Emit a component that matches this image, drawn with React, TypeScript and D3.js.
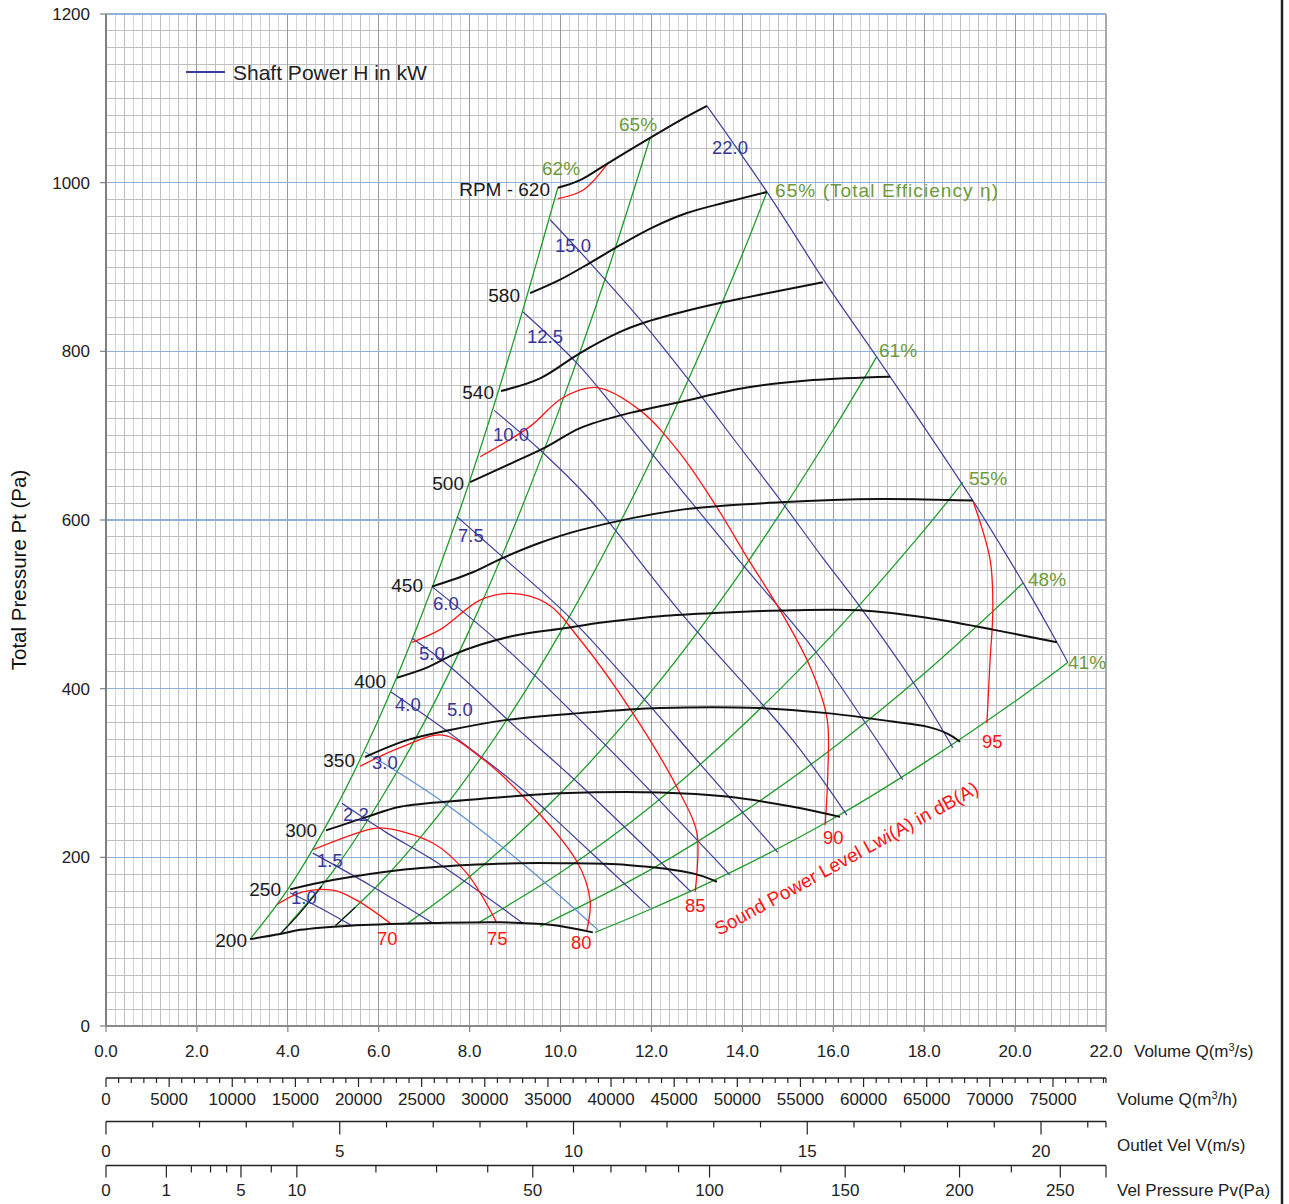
import React from 'react';
import * as d3 from 'd3';

type Pt = [number, number];

// ---------- axis ticks ----------
const qTicks = [0, 2, 4, 6, 8, 10, 12, 14, 16, 18, 20, 22];
const pTicks = [0, 200, 400, 600, 800, 1000, 1200];
const m3hLabels = [0, 5000, 10000, 15000, 20000, 25000, 30000, 35000, 40000, 45000, 50000, 55000, 60000, 65000, 70000, 75000];
const velLabels = [0, 5, 10, 15, 20];
const pvTicks = [0, 1, 2, 3, 4, 5, 7.5, 10, 20, 30, 40, 50, 60, 70, 80, 90, 100, 125, 150, 175, 200, 225, 250];
const pvLabels = [0, 1, 5, 10, 50, 100, 150, 200, 250];

// ---------- fan speed curves (Q m3/s, Pt Pa) ----------
const rpmNames = ['RPM - 620', '580', '540', '500', '450', '400', '350', '300', '250', '200'];
const rpm620: Pt[] = [[9.94, 994], [10.43, 1003], [11.04, 1023], [11.97, 1053], [12.6, 1073], [13.22, 1091]];
const rpm580: Pt[] = [[9.33, 869], [9.99, 885], [10.65, 905], [11.31, 926], [12.03, 947], [12.78, 964], [13.66, 977], [14.54, 989]];
const rpm540: Pt[] = [[8.69, 753], [9.55, 768], [10.43, 798], [11.31, 823], [11.9, 835], [13.0, 851], [14.1, 864], [15.77, 882]];
const rpm500: Pt[] = [[8.01, 645], [8.95, 668], [9.7, 687], [10.43, 709], [11.53, 727], [12.63, 740], [14.1, 757], [15.55, 766], [17.25, 770]];
const rpm450: Pt[] = [[7.17, 521], [8.07, 538], [8.73, 555], [9.55, 573], [10.43, 588], [12.63, 612], [14.83, 621], [17.03, 625], [19.07, 623]];
const rpm400: Pt[] = [[6.4, 413], [7.06, 425], [7.63, 440], [8.23, 452], [9.0, 463], [9.99, 471], [11.0, 479], [12.19, 486], [13.5, 490], [15.11, 493], [16.59, 493], [18.06, 484], [19.51, 470], [20.92, 455]];
const rpm350: Pt[] = [[5.7, 319], [6.62, 339], [7.57, 351], [8.82, 363], [10.43, 371], [12.19, 377], [14.39, 377], [15.86, 371], [17.31, 361], [18.06, 355], [18.5, 347], [18.79, 337]];
const rpm300: Pt[] = [[4.84, 232], [5.74, 248], [6.47, 260], [7.94, 268], [9.11, 273], [9.99, 276], [12.19, 277], [13.66, 272], [15.11, 260], [16.15, 248]];
const rpm250: Pt[] = [[4.05, 162], [4.99, 173], [6.47, 185], [7.94, 191], [9.11, 193], [9.99, 193], [11.46, 191], [12.91, 181], [13.44, 171]];
const rpm200: Pt[] = [[3.17, 103], [3.83, 109], [4.27, 114], [5.37, 119], [7.19, 122], [8.67, 123], [9.77, 120], [10.71, 111]];
const rpmCurves = [rpm620, rpm580, rpm540, rpm500, rpm450, rpm400, rpm350, rpm300, rpm250, rpm200];

// ---------- total efficiency lines ----------
const effNames = ['62%', '65%', '65% (Total Efficiency η)', '61%', '55%', '48%', '41%'];
const eff62: Pt[] = [[3.17, 103], [4, 162], [5, 253], [6, 364], [7, 495], [8, 646], [9, 818], [9.94, 994]];
const eff65a: Pt[] = [[3.83, 109], [5, 184], [6, 265], [7, 360], [8, 470], [9, 595], [10, 735], [11, 889], [11.97, 1053]];
const eff65b: Pt[] = [[5.05, 119], [6, 168], [7, 229], [8, 299], [9, 378], [10, 467], [11, 565], [12, 672], [13, 789], [14, 915], [14.54, 989]];
const eff61: Pt[] = [[6.64, 122], [8, 177], [10, 276], [12, 397], [14, 541], [16, 707], [16.96, 794]];
const eff55: Pt[] = [[8.18, 122], [10, 182], [12, 261], [14, 356], [16, 465], [18, 588], [18.85, 645]];
const eff48: Pt[] = [[9.55, 118], [12, 186], [14, 253], [16, 330], [18, 418], [20.17, 525]];
const eff41: Pt[] = [[10.76, 111], [12, 139], [14, 189], [16, 246], [18, 312], [20, 385], [21.16, 431]];
const effCurves = [eff62, eff65a, eff65b, eff61, eff55, eff48, eff41];
const eff65aLow: Pt[] = [[3.83, 109], [4.2, 130], [4.75, 166]];
const eff65bLow: Pt[] = [[5.05, 119], [5.27, 130], [5.49, 141]];

// ---------- shaft power lines (kW) ----------
const powNames = ['22.0', '15.0', '12.5', '10.0', '7.5', '6.0', '5.0', '4.0', '3.0', '2.2', '1.5', '1.0'];
const pow220: Pt[] = [[13.22, 1091], [14.54, 989], [15.82, 882], [16.96, 793], [17.25, 770], [19.07, 623], [20.17, 526], [20.92, 455], [21.16, 431]];
const pow150: Pt[] = [[9.77, 956], [10.65, 905], [11.81, 834], [12.85, 764], [13.88, 691], [14.83, 624], [15.77, 555], [16.59, 497], [17.8, 404], [18.63, 330]];
const pow125: Pt[] = [[9.17, 847], [10.36, 786], [11.37, 721], [13.88, 555], [15.64, 442], [16.81, 351], [17.53, 292]];
const pow100: Pt[] = [[8.54, 730], [9.61, 680], [10.65, 624], [12.63, 491], [15.11, 339], [16.3, 250]];
const pow75: Pt[] = [[7.72, 604], [8.73, 556], [10.21, 484], [11.75, 393], [13.13, 307], [14.78, 206]];
const pow60: Pt[] = [[7.17, 521], [8.67, 454], [10.43, 363], [11.81, 288], [13.73, 179]];
const pow50: Pt[] = [[6.73, 460], [7.57, 426], [9.0, 355], [10.43, 286], [12.87, 159]];
const pow40: Pt[] = [[6.27, 396], [7.57, 347], [9.26, 276], [9.99, 240], [11.97, 140]];
const pow30: Pt[] = [[5.7, 325], [7.35, 268], [9.11, 195], [10.82, 114]];
const pow22: Pt[] = [[5.19, 264], [6.18, 229], [7.19, 197], [9.17, 122]];
const pow15: Pt[] = [[4.55, 205], [5.81, 167], [7.19, 122]];
const pow10: Pt[] = [[4.05, 158], [4.71, 140], [5.41, 119]];
const powCurves = [pow220, pow150, pow125, pow100, pow75, pow60, pow50, pow40, pow30, pow22, pow15, pow10];

// ---------- sound power level lines dB(A) ----------
const sndNames = ['70', '75', '80', '85', '90', '95'];
const snd70: Pt[] = [[3.76, 144], [4.33, 159], [4.99, 161], [5.52, 149], [6.25, 122]];
const snd75: Pt[] = [[4.55, 209], [5.59, 230], [6.03, 235], [7.19, 217], [7.94, 181], [8.6, 122]];
const snd80: Pt[] = [[5.59, 308], [6.47, 330], [7.41, 345], [8.23, 319], [9.11, 276], [10.36, 195], [10.65, 149], [10.58, 114]];
const snd85: Pt[] = [[6.73, 455], [7.35, 470], [8.23, 505], [8.89, 513], [9.7, 501], [10.43, 458], [11.59, 371], [12.63, 276], [13.0, 229], [12.96, 159]];
const snd90: Pt[] = [[8.23, 675], [9.33, 711], [10.05, 745], [10.8, 757], [11.75, 730], [12.63, 679], [13.44, 615], [14.1, 556], [14.83, 493], [15.49, 426], [15.86, 366], [15.88, 300], [15.82, 238]];
const snd95: Pt[] = [[19.07, 623], [19.45, 553], [19.51, 493], [19.45, 434], [19.38, 359]];
const snd620: Pt[] = [[9.94, 981], [10.49, 991], [11.04, 1023]];
const sndCurves = [snd70, snd75, snd80, snd85, snd90, snd95];

// ---------- layout (pixels) ----------
const X0 = 106, X1 = 1106, Y0 = 1026, Y1 = 14;
const rpmLabelPos: Pt[] = [[550, 196], [520, 302], [494, 399], [464, 490], [423, 592], [386, 688], [355, 767], [317, 837], [281, 896], [247, 947]];
const effLabelPos: Pt[] = [[542, 175], [619, 131], [775, 197], [879, 357], [969, 485], [1028, 586], [1068, 669]];
const powLabelPos: Pt[] = [[712, 154], [555, 252], [527, 343], [493, 441], [458, 542], [433, 610], [419, 660], [395, 711], [372, 769], [343, 821], [317, 867], [291, 904]];
const extraPowLabel = { text: '5.0', pos: [447, 716] as Pt };
const sndLabelPos: Pt[] = [[377, 945], [487, 945], [571, 949], [685, 912], [823, 844], [982, 748]];

const C = {
  black: '#111111',
  blue: '#3b3e9b',
  blueLight: '#5b8fd3',
  green: '#1f9d2b',
  greenText: '#6c9a3c',
  red: '#ff1414',
  gridMinorA: '#bfbfbf',
  gridMinorB: '#d4d4d4',
  gridMajorV: '#9a9a9a',
  gridMajorH: '#8fb0d8',
};
const FONT = '"Liberation Sans", Arial, Helvetica, sans-serif';

export default function App() {
  const x = d3.scaleLinear().domain([0, 22]).range([X0, X1]);
  const y = d3.scaleLinear().domain([0, 1200]).range([Y0, Y1]);
  const xh = d3.scaleLinear().domain([0, 22 * 3600]).range([X0, X1]);
  const xv = d3.scaleLinear().domain([0, 21.39]).range([X0, X1]);
  const xpv = (pv: number) => xv(Math.sqrt(pv / 0.6));

  const line = d3.line<Pt>().x(d => x(d[0])).y(d => y(d[1])).curve(d3.curveCatmullRom.alpha(0.5));

  const vGrid: number[] = d3.range(0, 111);
  const hGrid: number[] = d3.range(0, 61);
  const m3hTicks: number[] = d3.range(0, 80000, 1000);
  const velTicks: number[] = d3.range(0, 22, 1);

  const yM3h = 1078, yVel = 1121.5, yPv = 1165.5;
  const AX = 17;

  return (
    <svg width={1289} height={1204} style={{ position: 'absolute', left: 0, top: 0, background: '#fff' }} fontFamily={FONT}>
      <rect x={0} y={0} width={1289} height={1204} fill="#fff" />
      {/* grid */}
      <g shapeRendering="crispEdges">
        {vGrid.filter(i => i % 10 !== 0).map(i => (
          <line key={'v' + i} x1={x(i * 0.2)} x2={x(i * 0.2)} y1={Y1} y2={Y0} stroke={i % 2 === 0 ? C.gridMinorA : C.gridMinorB} strokeWidth={1} />
        ))}
        {hGrid.filter(i => i % 10 !== 0).map(i => (
          <line key={'h' + i} x1={X0} x2={X1} y1={y(i * 20)} y2={y(i * 20)} stroke={C.gridMinorA} strokeWidth={1} />
        ))}
        {qTicks.slice(1, -1).map(q => (
          <line key={'vm' + q} x1={x(q)} x2={x(q)} y1={Y1} y2={Y0} stroke={C.gridMajorV} strokeWidth={1} />
        ))}
        {pTicks.slice(1).map(p => (
          <line key={'hm' + p} x1={X0} x2={X1} y1={y(p)} y2={y(p)} stroke={C.gridMajorH} strokeWidth={1.3} />
        ))}
        <line x1={X1} x2={X1} y1={Y1} y2={Y0} stroke="#a8a8a8" strokeWidth={1.5} />
        <line x1={X0} x2={X1} y1={Y0} y2={Y0} stroke="#8a8a8a" strokeWidth={1.5} />
        <line x1={X0} x2={X0} y1={Y1} y2={Y0} stroke="#808080" strokeWidth={2} />
      </g>

      {/* y axis */}
      {pTicks.map(p => (
        <g key={'yt' + p}>
          <line x1={X0 - 6} x2={X0} y1={y(p)} y2={y(p)} stroke="#808080" strokeWidth={1.2} />
          <text x={90} y={y(p) + 6} textAnchor="end" fontSize={AX} fill="#222">{p}</text>
        </g>
      ))}
      <text transform={`translate(26,570) rotate(-90)`} textAnchor="middle" fontSize={20.5} fill="#111">Total Pressure Pt (Pa)</text>

      {/* x axis (m3/s) */}
      {qTicks.map(q => (
        <g key={'xt' + q}>
          <line x1={x(q)} x2={x(q)} y1={Y0} y2={Y0 + 6} stroke="#808080" strokeWidth={1.2} />
          <text x={x(q)} y={1057} textAnchor="middle" fontSize={AX} fill="#222">{q.toFixed(1)}</text>
        </g>
      ))}
      <text x={1134} y={1057} fontSize={AX} fill="#222">Volume Q(m<tspan dy={-6} fontSize={11}>3</tspan><tspan dy={6}>/s)</tspan></text>

      {/* m3/h axis */}
      <line x1={X0} x2={X1} y1={yM3h} y2={yM3h} stroke="#222" strokeWidth={1.3} />
      {m3hTicks.map(v => (
        <line key={'mh' + v} x1={xh(v)} x2={xh(v)} y1={yM3h} y2={yM3h + (v % 5000 === 0 ? 9 : 5)} stroke="#222" strokeWidth={1.2} />
      ))}
      <line x1={X1} x2={X1} y1={yM3h} y2={yM3h + 5} stroke="#222" strokeWidth={1.2} />
      {m3hLabels.map(v => (
        <text key={'mhl' + v} x={xh(v)} y={1105} textAnchor="middle" fontSize={AX} fill="#222">{v}</text>
      ))}
      <text x={1117} y={1105} fontSize={AX} fill="#222">Volume Q(m<tspan dy={-6} fontSize={11}>3</tspan><tspan dy={6}>/h)</tspan></text>

      {/* outlet velocity axis */}
      <line x1={X0} x2={X1} y1={yVel} y2={yVel} stroke="#222" strokeWidth={1.3} />
      {velTicks.map(v => (
        <line key={'vt' + v} x1={xv(v)} x2={xv(v)} y1={yVel} y2={yVel + (v % 5 === 0 ? 13 : 6)} stroke="#222" strokeWidth={1.2} />
      ))}
      <line x1={X1} x2={X1} y1={yVel} y2={yVel + 6} stroke="#222" strokeWidth={1.2} />
      {velLabels.map(v => (
        <text key={'vl' + v} x={xv(v)} y={1157} textAnchor="middle" fontSize={AX} fill="#222">{v}</text>
      ))}
      <text x={1117} y={1151} fontSize={AX} fill="#222">Outlet Vel V(m/s)</text>

      {/* velocity pressure axis */}
      <line x1={X0} x2={X1} y1={yPv} y2={yPv} stroke="#222" strokeWidth={1.3} />
      {pvTicks.map(v => (
        <line key={'pt' + v} x1={xpv(v)} x2={xpv(v)} y1={yPv} y2={yPv + (pvLabels.includes(v) ? 12 : 7)} stroke="#222" strokeWidth={1.2} />
      ))}
      <line x1={X1} x2={X1} y1={yPv} y2={yPv + 12} stroke="#222" strokeWidth={1.2} />
      {pvLabels.map(v => (
        <text key={'pl' + v} x={xpv(v)} y={1196} textAnchor="middle" fontSize={AX} fill="#222">{v}</text>
      ))}
      <text x={1117} y={1196} fontSize={AX} fill="#222">Vel Pressure Pv(Pa)</text>

      {/* right border */}
      <line x1={1282} x2={1282} y1={0} y2={1204} stroke="#222" strokeWidth={2.5} />

      {/* efficiency lines */}
      {effCurves.map((c, i) => (
        <path key={'e' + i} d={line(c) || ''} fill="none" stroke={C.green} strokeWidth={1.3} />
      ))}
      <path d={line(eff65aLow) || ''} fill="none" stroke={C.black} strokeWidth={1.2} />
      <path d={line(eff65bLow) || ''} fill="none" stroke={C.black} strokeWidth={1.2} />

      {/* power lines */}
      {powCurves.map((c, i) => (
        <path key={'p' + i} d={line(c) || ''} fill="none" stroke={powNames[i] === '3.0' ? C.blueLight : C.blue} strokeWidth={1.2} />
      ))}

      {/* sound lines */}
      {sndCurves.map((c, i) => (
        <path key={'s' + i} d={line(c) || ''} fill="none" stroke={C.red} strokeWidth={1.3} />
      ))}
      <path d={line(snd620) || ''} fill="none" stroke={C.red} strokeWidth={1.3} />

      {/* rpm curves */}
      {rpmCurves.map((c, i) => (
        <path key={'r' + i} d={line(c) || ''} fill="none" stroke={C.black} strokeWidth={2} />
      ))}

      {/* labels */}
      {rpmNames.map((n, i) => (
        <text key={'rl' + i} x={rpmLabelPos[i][0]} y={rpmLabelPos[i][1]} textAnchor="end" fontSize={19} fill="#1a1a1a">{n}</text>
      ))}
      {effNames.map((n, i) => (
        <text key={'el' + i} x={effLabelPos[i][0]} y={effLabelPos[i][1]} fontSize={19} fill={C.greenText}
          textLength={i === 2 ? 223 : undefined} lengthAdjust={i === 2 ? 'spacing' : undefined}>{n}</text>
      ))}
      {powNames.map((n, i) => (
        <text key={'pl2' + i} x={powLabelPos[i][0]} y={powLabelPos[i][1]} fontSize={18.5} fill="#36369a">{n}</text>
      ))}
      <text x={extraPowLabel.pos[0]} y={extraPowLabel.pos[1]} fontSize={18.5} fill="#36369a">{extraPowLabel.text}</text>
      {sndNames.map((n, i) => (
        <text key={'sl' + i} x={sndLabelPos[i][0]} y={sndLabelPos[i][1]} fontSize={18.5} fill={C.red}>{n}</text>
      ))}
      <text transform="translate(719,936) rotate(-28.8)" fontSize={19} fill={C.red}>Sound Power Level Lwi(A) in dB(A)</text>

      {/* legend */}
      <line x1={186} x2={225} y1={72} y2={72} stroke={C.blue} strokeWidth={2} />
      <text x={233} y={80} fontSize={21} fill="#222">Shaft Power H in kW</text>
    </svg>
  );
}
